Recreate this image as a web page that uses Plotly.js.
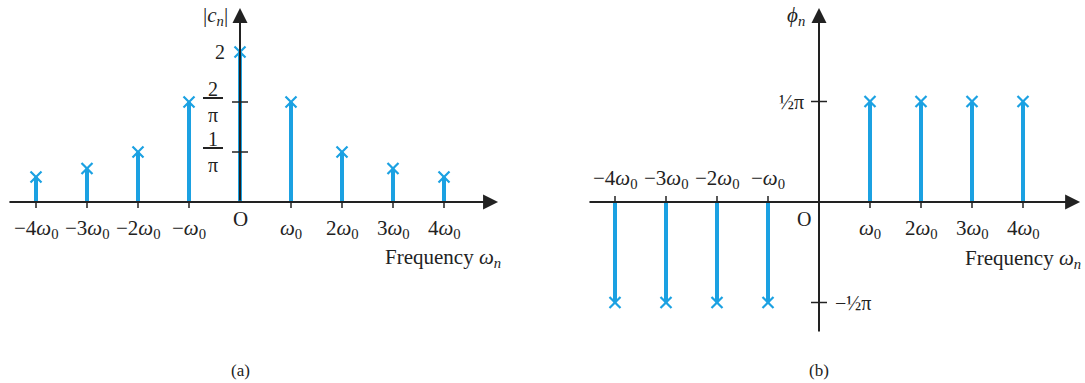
<!DOCTYPE html>
<html>
<head>
<meta charset="utf-8">
<script src="https://cdn.plot.ly/plotly-3.0.1.min.js"></script>
<style>html,body{margin:0;padding:0;background:#fff}</style>
</head>
<body>
<div id="chart" style="width:1085px;height:383px"></div>
<script>
// harmonic index n (multiples of w0)
var harmonics = [-4, -3, -2, -1, 0, 1, 2, 3, 4];
// |c_n| drawn on the figure's scale: 1 = 1/pi, 2 = 2/pi, 3 = "2"
var magnitude = [0.5, 0.67, 1, 2, 3, 2, 1, 0.67, 0.5];
// phase, in units of pi (c_0 has no phase line)
var phaseHarmonics = [-4, -3, -2, -1, 1, 2, 3, 4];
var phase = [-0.5, -0.5, -0.5, -0.5, 0.5, 0.5, 0.5, 0.5];

var tickLabels = ["\u22124<i>\u03c9</i><sub>0</sub>", "\u22123<i>\u03c9</i><sub>0</sub>",
  "\u22122<i>\u03c9</i><sub>0</sub>", "\u2212<i>\u03c9</i><sub>0</sub>", "O",
  "<i>\u03c9</i><sub>0</sub>", "2<i>\u03c9</i><sub>0</sub>", "3<i>\u03c9</i><sub>0</sub>",
  "4<i>\u03c9</i><sub>0</sub>"];
var magTickVals = [1, 2, 3];
var magTickText = ["<u>&nbsp;1&nbsp;</u><br>\u03c0", "<u>&nbsp;2&nbsp;</u><br>\u03c0", "2"];
var phaseTickVals = [0.5, -0.5];
var phaseTickText = ["\u00bd\u03c0", "\u2212\u00bd\u03c0"];

var blue = "#1ba1e2";
var font = "Liberation Serif, Times New Roman, serif";

function stems(xs, ys, xa, ya) {
  var sx = [], sy = [];
  xs.forEach(function (x, i) { sx.push(x, x, null); sy.push(0, ys[i], null); });
  return [
    {x: sx, y: sy, xaxis: xa, yaxis: ya, mode: "lines", line: {color: blue, width: 4},
     hoverinfo: "skip"},
    {x: xs, y: ys, xaxis: xa, yaxis: ya, mode: "markers",
     marker: {symbol: "x-thin", size: 11, line: {color: blue, width: 2.2}}}
  ];
}

var data = stems(harmonics, magnitude, "x", "y")
  .concat(stems(phaseHarmonics, phase, "x2", "y2"));

var shapes = [], annotations = [];

function axisArrow(xa, ya, x, y, ax, ay) {
  annotations.push({xref: xa, yref: ya, axref: xa, ayref: ya, x: x, y: y, ax: ax, ay: ay,
    text: "", showarrow: true, arrowhead: 2, arrowsize: 1.5, arrowwidth: 2, arrowcolor: "#222"});
}
function label(xa, ya, x, y, text, size, xs, ys, anchor) {
  annotations.push({xref: xa, yref: ya, x: x, y: y, text: text, showarrow: false,
    xshift: xs || 0, yshift: ys || 0, xanchor: anchor || "center",
    font: {family: font, size: size, color: "#222"}});
}
function xTick(xa, ya, x, len) {
  shapes.push({type: "line", xref: xa, yref: ya, x0: x, x1: x, ysizemode: "pixel",
    yanchor: 0, y0: 0, y1: len, line: {color: "#222", width: 1.5}});
}
function yTick(xa, ya, y) {
  shapes.push({type: "line", xref: xa, yref: ya, y0: y, y1: y, xsizemode: "pixel",
    xanchor: 0, x0: -8, x1: 8, line: {color: "#222", width: 1.5}});
}

// (a) magnitude spectrum
axisArrow("x", "y", 5.06, 0, -4.55, 0);
axisArrow("x", "y", 0, 3.88, 0, 0);
harmonics.forEach(function (h, i) {
  if (h !== 0) xTick("x", "y", h, -6);
  label("x", "y", h, 0, tickLabels[i], 21, 0, h === 0 ? -17 : -27);
});
magTickVals.forEach(function (v, i) {
  if (v < 3) yTick("x", "y", v);
  label("x", "y", 0, v, magTickText[i], 20, v < 3 ? -15 : -13, 0, "right");
});
label("x", "y", 0, 3.88, "|<i>c</i><sub><i>n</i></sub>|", 21, -10, -8, "right");
label("x", "y", 2.81, 0, "Frequency <i>\u03c9</i><sub><i>n</i></sub>", 21, 0, -56, "left");
label("x", "y", 0, 0, "(a)", 17, 0, -168);

// (b) phase spectrum
axisArrow("x2", "y2", 5.12, 0, -4.53, 0);
axisArrow("x2", "y2", 0, 0.965, 0, -0.652);
harmonics.forEach(function (h, i) {
  if (h < 0) {
    xTick("x2", "y2", h, 6);
    label("x2", "y2", h, 0, tickLabels[i], 21, 0, 23);
  } else if (h > 0) {
    xTick("x2", "y2", h, -6);
    label("x2", "y2", h, 0, tickLabels[i], 21, 0, -27);
  } else {
    label("x2", "y2", h, 0, "O", 20, -15, -17);
  }
});
phaseTickVals.forEach(function (v, i) {
  yTick("x2", "y2", v);
  label("x2", "y2", 0, v, phaseTickText[i], 20, v > 0 ? -13 : 14, 0, v > 0 ? "right" : "left");
});
label("x2", "y2", 0, 0.965, "<i>\u03d5</i><sub><i>n</i></sub>", 21, -12, -8, "right");
label("x2", "y2", 2.82, 0, "Frequency <i>\u03c9</i><sub><i>n</i></sub>", 21, 0, -57, "left");
label("x2", "y2", 0, 0, "(b)", 17, 0, -168);

var hidden = {visible: false, fixedrange: true};
var layout = {
  width: 1085, height: 383,
  margin: {l: 0, r: 0, t: 0, b: 0},
  showlegend: false,
  paper_bgcolor: "#fff", plot_bgcolor: "#fff",
  xaxis: Object.assign({domain: [0, 0.5], range: [-240 / 51, 302.5 / 51]}, hidden),
  yaxis: Object.assign({domain: [0, 1], range: [-181 / 50, 202 / 50]}, hidden),
  xaxis2: Object.assign({domain: [0.5, 1], range: [-276.5 / 51, 266 / 51], anchor: "y2"}, hidden),
  yaxis2: Object.assign({domain: [0, 1], range: [-181 / 201, 202 / 201], anchor: "x2"}, hidden),
  shapes: shapes,
  annotations: annotations
};

Plotly.newPlot("chart", data, layout, {staticPlot: true});
</script>
</body>
</html>
